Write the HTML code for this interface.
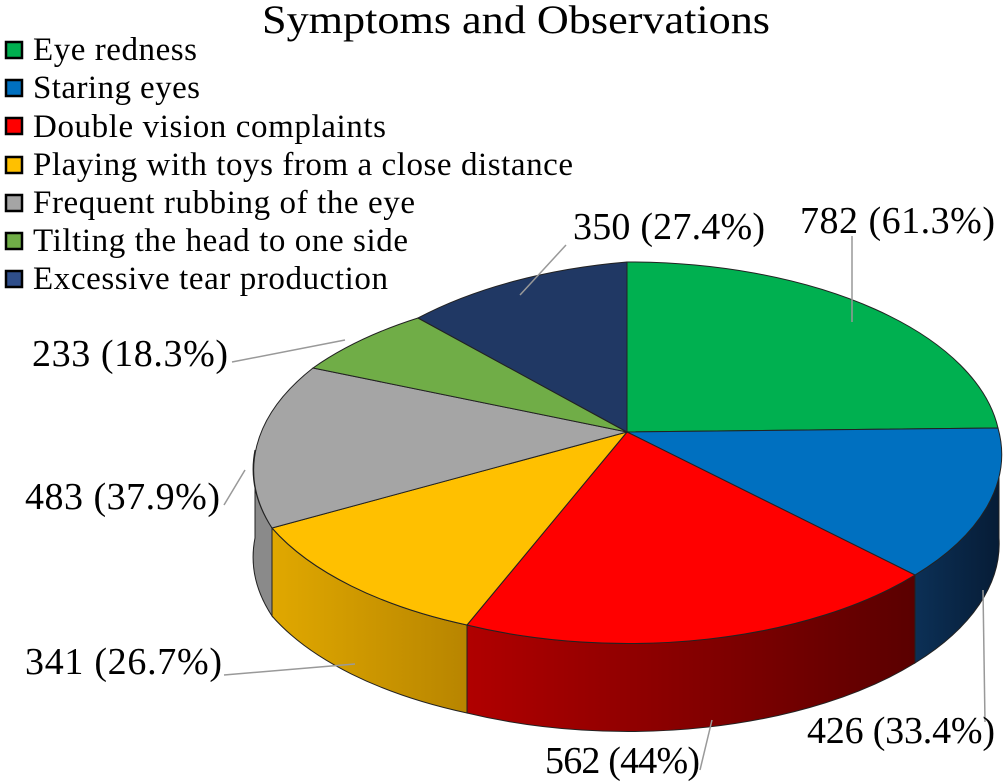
<!DOCTYPE html>
<html><head><meta charset="utf-8"><style>
html,body{margin:0;padding:0;background:#fff;}
svg{display:block;font-family:"Liberation Serif",serif;}
</style></head><body>
<svg width="1004" height="784" viewBox="0 0 1004 784" xmlns="http://www.w3.org/2000/svg">
<defs>
<linearGradient id="gy" x1="0" x2="1"><stop offset="0" stop-color="#e0a800"/><stop offset="1" stop-color="#b88500"/></linearGradient>
<linearGradient id="gr" x1="0" x2="1"><stop offset="0" stop-color="#b00000"/><stop offset="1" stop-color="#5a0000"/></linearGradient>
<linearGradient id="gb" x1="0" x2="1"><stop offset="0" stop-color="#0c3056"/><stop offset="1" stop-color="#061c36"/></linearGradient>
</defs>
<text x="262" y="33" font-size="40" textLength="508" lengthAdjust="spacingAndGlyphs">Symptoms and Observations</text>
<g stroke="#000" stroke-width="2.5">
<rect x="6" y="42" width="16" height="16" fill="#00b050"/>
<rect x="6" y="80" width="16" height="16" fill="#0070c0"/>
<rect x="6" y="118" width="16" height="16" fill="#ff0000"/>
<rect x="6" y="157" width="16" height="16" fill="#ffc000"/>
<rect x="6" y="195" width="16" height="16" fill="#a5a5a5"/>
<rect x="6" y="233" width="16" height="16" fill="#70ad47"/>
<rect x="6" y="271" width="16" height="16" fill="#2f4e8a"/>
</g>
<g font-size="33" lengthAdjust="spacingAndGlyphs">
<text x="33" y="60" textLength="164">Eye redness</text>
<text x="33" y="98" textLength="167">Staring eyes</text>
<text x="33" y="137" textLength="353">Double vision complaints</text>
<text x="33" y="175" textLength="540">Playing with toys from a close distance</text>
<text x="33" y="213" textLength="382">Frequent rubbing of the eye</text>
<text x="33" y="251" textLength="375">Tilting the head to one side</text>
<text x="33" y="289" textLength="355">Excessive tear production</text>
</g>
<g stroke="#222" stroke-width="1">
<path d="M999,450 A372,188 0 0 1 915,575 L915,663 A372,188 0 0 0 999,538 Z" fill="url(#gb)"/>
<path d="M915,575 A372,188 0 0 1 467,625 L467,713 A372,188 0 0 0 915,663 Z" fill="url(#gr)"/>
<path d="M467,625 A372,188 0 0 1 272,528 L272,616 A372,188 0 0 0 467,713 Z" fill="url(#gy)"/>
<path d="M272,528 A372,188 0 0 1 255,450 L255,538 A372,188 0 0 0 272,616 Z" fill="#8a8a8a"/>
</g>
<g stroke="#222" stroke-width="1">
<path d="M627,432 L627,262 A372,188 0 0 1 998,428 Z" fill="#00b050"/>
<path d="M627,432 L998,428 A372,188 0 0 1 915,575 Z" fill="#0070c0"/>
<path d="M627,432 L915,575 A372,188 0 0 1 467,625 Z" fill="#ff0000"/>
<path d="M627,432 L467,625 A372,188 0 0 1 272,528 Z" fill="#ffc000"/>
<path d="M627,432 L272,528 A372,188 0 0 1 313,368 Z" fill="#a5a5a5"/>
<path d="M627,432 L313,368 A372,188 0 0 1 418,318 Z" fill="#70ad47"/>
<path d="M627,432 L418,318 A372,188 0 0 1 627,262 Z" fill="#203864"/>
</g>
<g stroke="#999" stroke-width="1.5" fill="none">
<polyline points="566,245 520,295"/>
<polyline points="852,236 852,322"/>
<polyline points="232,362 345,340"/>
<polyline points="224,505 245,470"/>
<polyline points="224,675 355,664"/>
<polyline points="700,770 712,720"/>
<polyline points="985,722 983,590"/>
</g>
<g font-size="38" lengthAdjust="spacingAndGlyphs">
<text x="573" y="239" textLength="192">350 (27.4%)</text>
<text x="800" y="233" textLength="195">782 (61.3%)</text>
<text x="32" y="366" textLength="196">233 (18.3%)</text>
<text x="25" y="509" textLength="195">483 (37.9%)</text>
<text x="25" y="674" textLength="197">341 (26.7%)</text>
<text x="545" y="773" textLength="155">562 (44%)</text>
<text x="807" y="743" textLength="188">426 (33.4%)</text>
</g>
</svg>
</body></html>
